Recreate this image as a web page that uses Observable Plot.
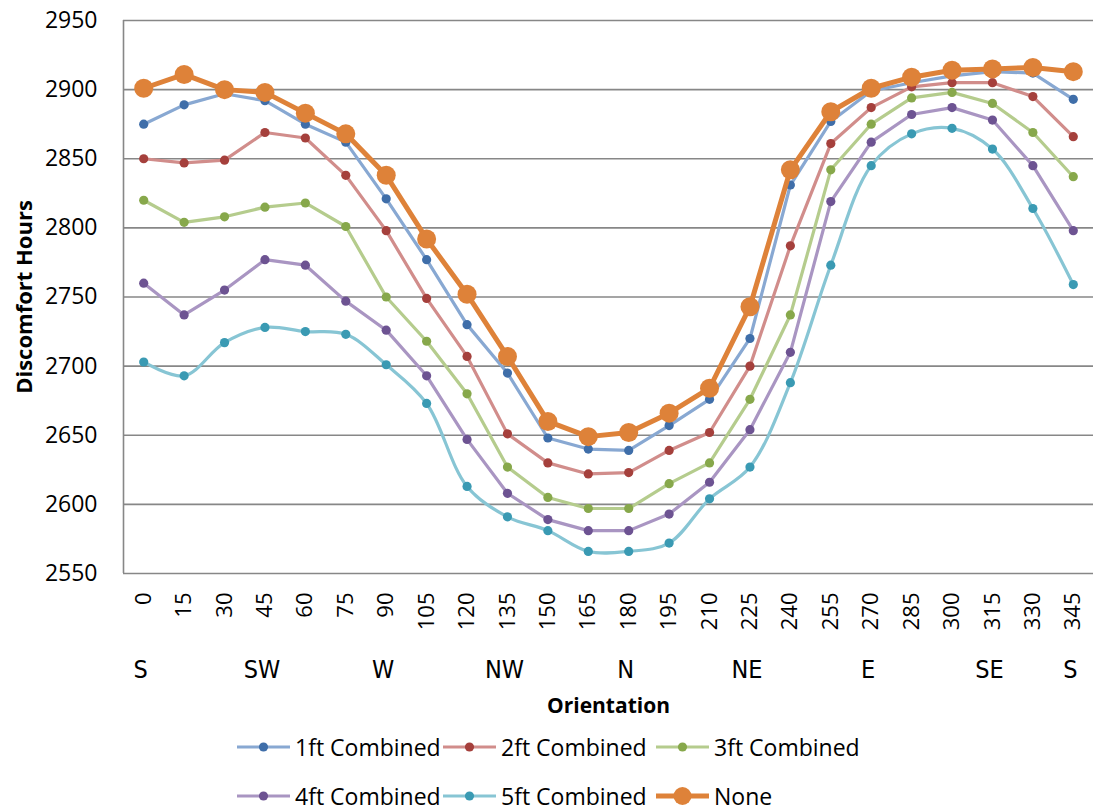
<!DOCTYPE html>
<html>
<head>
<meta charset="utf-8">
<script src="https://cdn.jsdelivr.net/npm/d3@7"></script>
<script src="https://cdn.jsdelivr.net/npm/@observablehq/plot@0.6"></script>
<style>
  body { margin: 0; background: #fff; font-family: "Open Sans", sans-serif; }
  #legend { margin-top: 2px; }
  .row { display: flex; align-items: center; height: 49px; padding-left: 236px; }
  .item { display: flex; align-items: center; font-size: 23px; color: #000; }
  .item svg { display: block; }
  .item span { margin-left: 4px; white-space: nowrap; }
</style>
</head>
<body>
<div id="chart"></div>
<div id="legend"></div>
<script>
// Building orientation in degrees (0 = facing south)
const orientations = [0, 15, 30, 45, 60, 75, 90, 105, 120, 135, 150, 165, 180, 195, 210, 225, 240, 255, 270, 285, 300, 315, 330, 345];

// Annual discomfort hours for each shading configuration
const oneFt   = [2875, 2889, 2897, 2892, 2875, 2862, 2821, 2777, 2730, 2695, 2648, 2640, 2639, 2657, 2676, 2720, 2831, 2877, 2899, 2905, 2910, 2913, 2912, 2893];
const twoFt   = [2850, 2847, 2849, 2869, 2865, 2838, 2798, 2749, 2707, 2651, 2630, 2622, 2623, 2639, 2652, 2700, 2787, 2861, 2887, 2902, 2905, 2905, 2895, 2866];
const threeFt = [2820, 2804, 2808, 2815, 2818, 2801, 2750, 2718, 2680, 2627, 2605, 2597, 2597, 2615, 2630, 2676, 2737, 2842, 2875, 2894, 2898, 2890, 2869, 2837];
const fourFt  = [2760, 2737, 2755, 2777, 2773, 2747, 2726, 2693, 2647, 2608, 2589, 2581, 2581, 2593, 2616, 2654, 2710, 2819, 2862, 2882, 2887, 2878, 2845, 2798];
const fiveFt  = [2703, 2693, 2717, 2728, 2725, 2723, 2701, 2673, 2613, 2591, 2581, 2566, 2566, 2572, 2604, 2627, 2688, 2773, 2845, 2868, 2872, 2857, 2814, 2759];
const noShade = [2901, 2911, 2900, 2898, 2883, 2868, 2838, 2792, 2752, 2707, 2660, 2649, 2652, 2666, 2684, 2743, 2842, 2884, 2901, 2909, 2914, 2915, 2916, 2913];

const seriesNames  = ["1ft Combined", "2ft Combined", "3ft Combined", "4ft Combined", "5ft Combined", "None"];
const seriesValues = [oneFt, twoFt, threeFt, fourFt, fiveFt, noShade];
const lineColors   = ["#88a8d2", "#d18d8b", "#b5cc8d", "#a995c2", "#87c5d4", "#de8239"];
const markerColors = ["#3f6ea9", "#a5403c", "#87a84b", "#6d5392", "#3a9ab3", "#de8239"];
const lineWidths   = [3.2, 3.2, 3.2, 3.2, 3.2, 5];
const markerRadii  = [4.6, 4.6, 4.6, 4.6, 4.6, 9.5];
const lineCurves   = ["linear", "linear", "linear", "linear", "catmull-rom", "linear"];

// Compass directions printed under the orientation axis
const compassAngles = [0, 45, 90, 135, 180, 225, 270, 315, 345];
const compassNames  = ["S", "SW", "W", "NW", "N", "NE", "E", "SE", "S"];

const yTicks = [2550, 2600, 2650, 2700, 2750, 2800, 2850, 2900, 2950];

const rows = seriesNames.flatMap((name, s) =>
  orientations.map((o, i) => ({series: name, orientation: o, value: seriesValues[s][i]}))
);

const seriesMarks = seriesNames.flatMap((name, s) => {
  const data = rows.filter(d => d.series === name);
  return [
    Plot.line(data, {x: "orientation", y: "value", stroke: lineColors[s], strokeWidth: lineWidths[s], curve: lineCurves[s]}),
    Plot.dot(data, {x: "orientation", y: "value", r: markerRadii[s], fill: markerColors[s], stroke: "none"})
  ];
});

const chart = Plot.plot({
  width: 1097,
  height: 720,
  marginLeft: 123,
  marginRight: 4,
  marginTop: 20,
  marginBottom: 147,
  style: {fontFamily: "'Open Sans', sans-serif", fontSize: "23px", color: "#000", background: "#fff"},
  x: {domain: [-7.5, 352.5], label: null},
  y: {domain: [2550, 2950], label: null},
  marks: [
    Plot.gridY(yTicks, {stroke: "#878787", strokeOpacity: 1, strokeWidth: 1.6}),
    Plot.ruleX([-7.5], {stroke: "#878787", strokeWidth: 1.6}),
    Plot.axisY(yTicks, {tickSize: 0, tickPadding: 26, fontSize: 23, tickFormat: d => String(d), label: null}),
    Plot.axisX(orientations, {tickSize: 0, tickPadding: 19, tickRotate: -90, fontSize: 22, tickFormat: d => String(d), label: null}),
    Plot.text(compassAngles, {x: d => d, text: (d, i) => compassNames[i], frameAnchor: "bottom", dy: 104, dx: -3,
      fontFamily: "'DejaVu Sans Condensed', 'Liberation Sans Narrow', sans-serif", fontSize: 25}),
    Plot.text(["Orientation"], {frameAnchor: "bottom", dy: 139, fontWeight: "bold", fontSize: 21}),
    Plot.text(["Discomfort Hours"], {frameAnchor: "left", rotate: -90, dx: -99, textAnchor: "middle", fontWeight: "bold", fontSize: 22}),
    ...seriesMarks
  ]
});
document.getElementById("chart").append(chart);

// Legend: two rows of three entries
const legend = d3.select("#legend");
const itemWidths = [206, 213, null];
[[0, 1, 2], [3, 4, 5]].forEach(group => {
  const row = legend.append("div").attr("class", "row");
  group.forEach((s, j) => {
    const item = row.append("div").attr("class", "item");
    if (itemWidths[j]) item.style("width", itemWidths[j] + "px");
    const sw = item.append("svg").attr("width", 55).attr("height", 22);
    sw.append("line").attr("x1", 1).attr("x2", 54).attr("y1", 11).attr("y2", 11)
      .attr("stroke", lineColors[s]).attr("stroke-width", lineWidths[s]);
    sw.append("circle").attr("cx", 27.5).attr("cy", 11).attr("r", s === 5 ? 9 : 4.6)
      .attr("fill", markerColors[s]);
    item.append("span").text(seriesNames[s]);
  });
});
</script>
</body>
</html>
